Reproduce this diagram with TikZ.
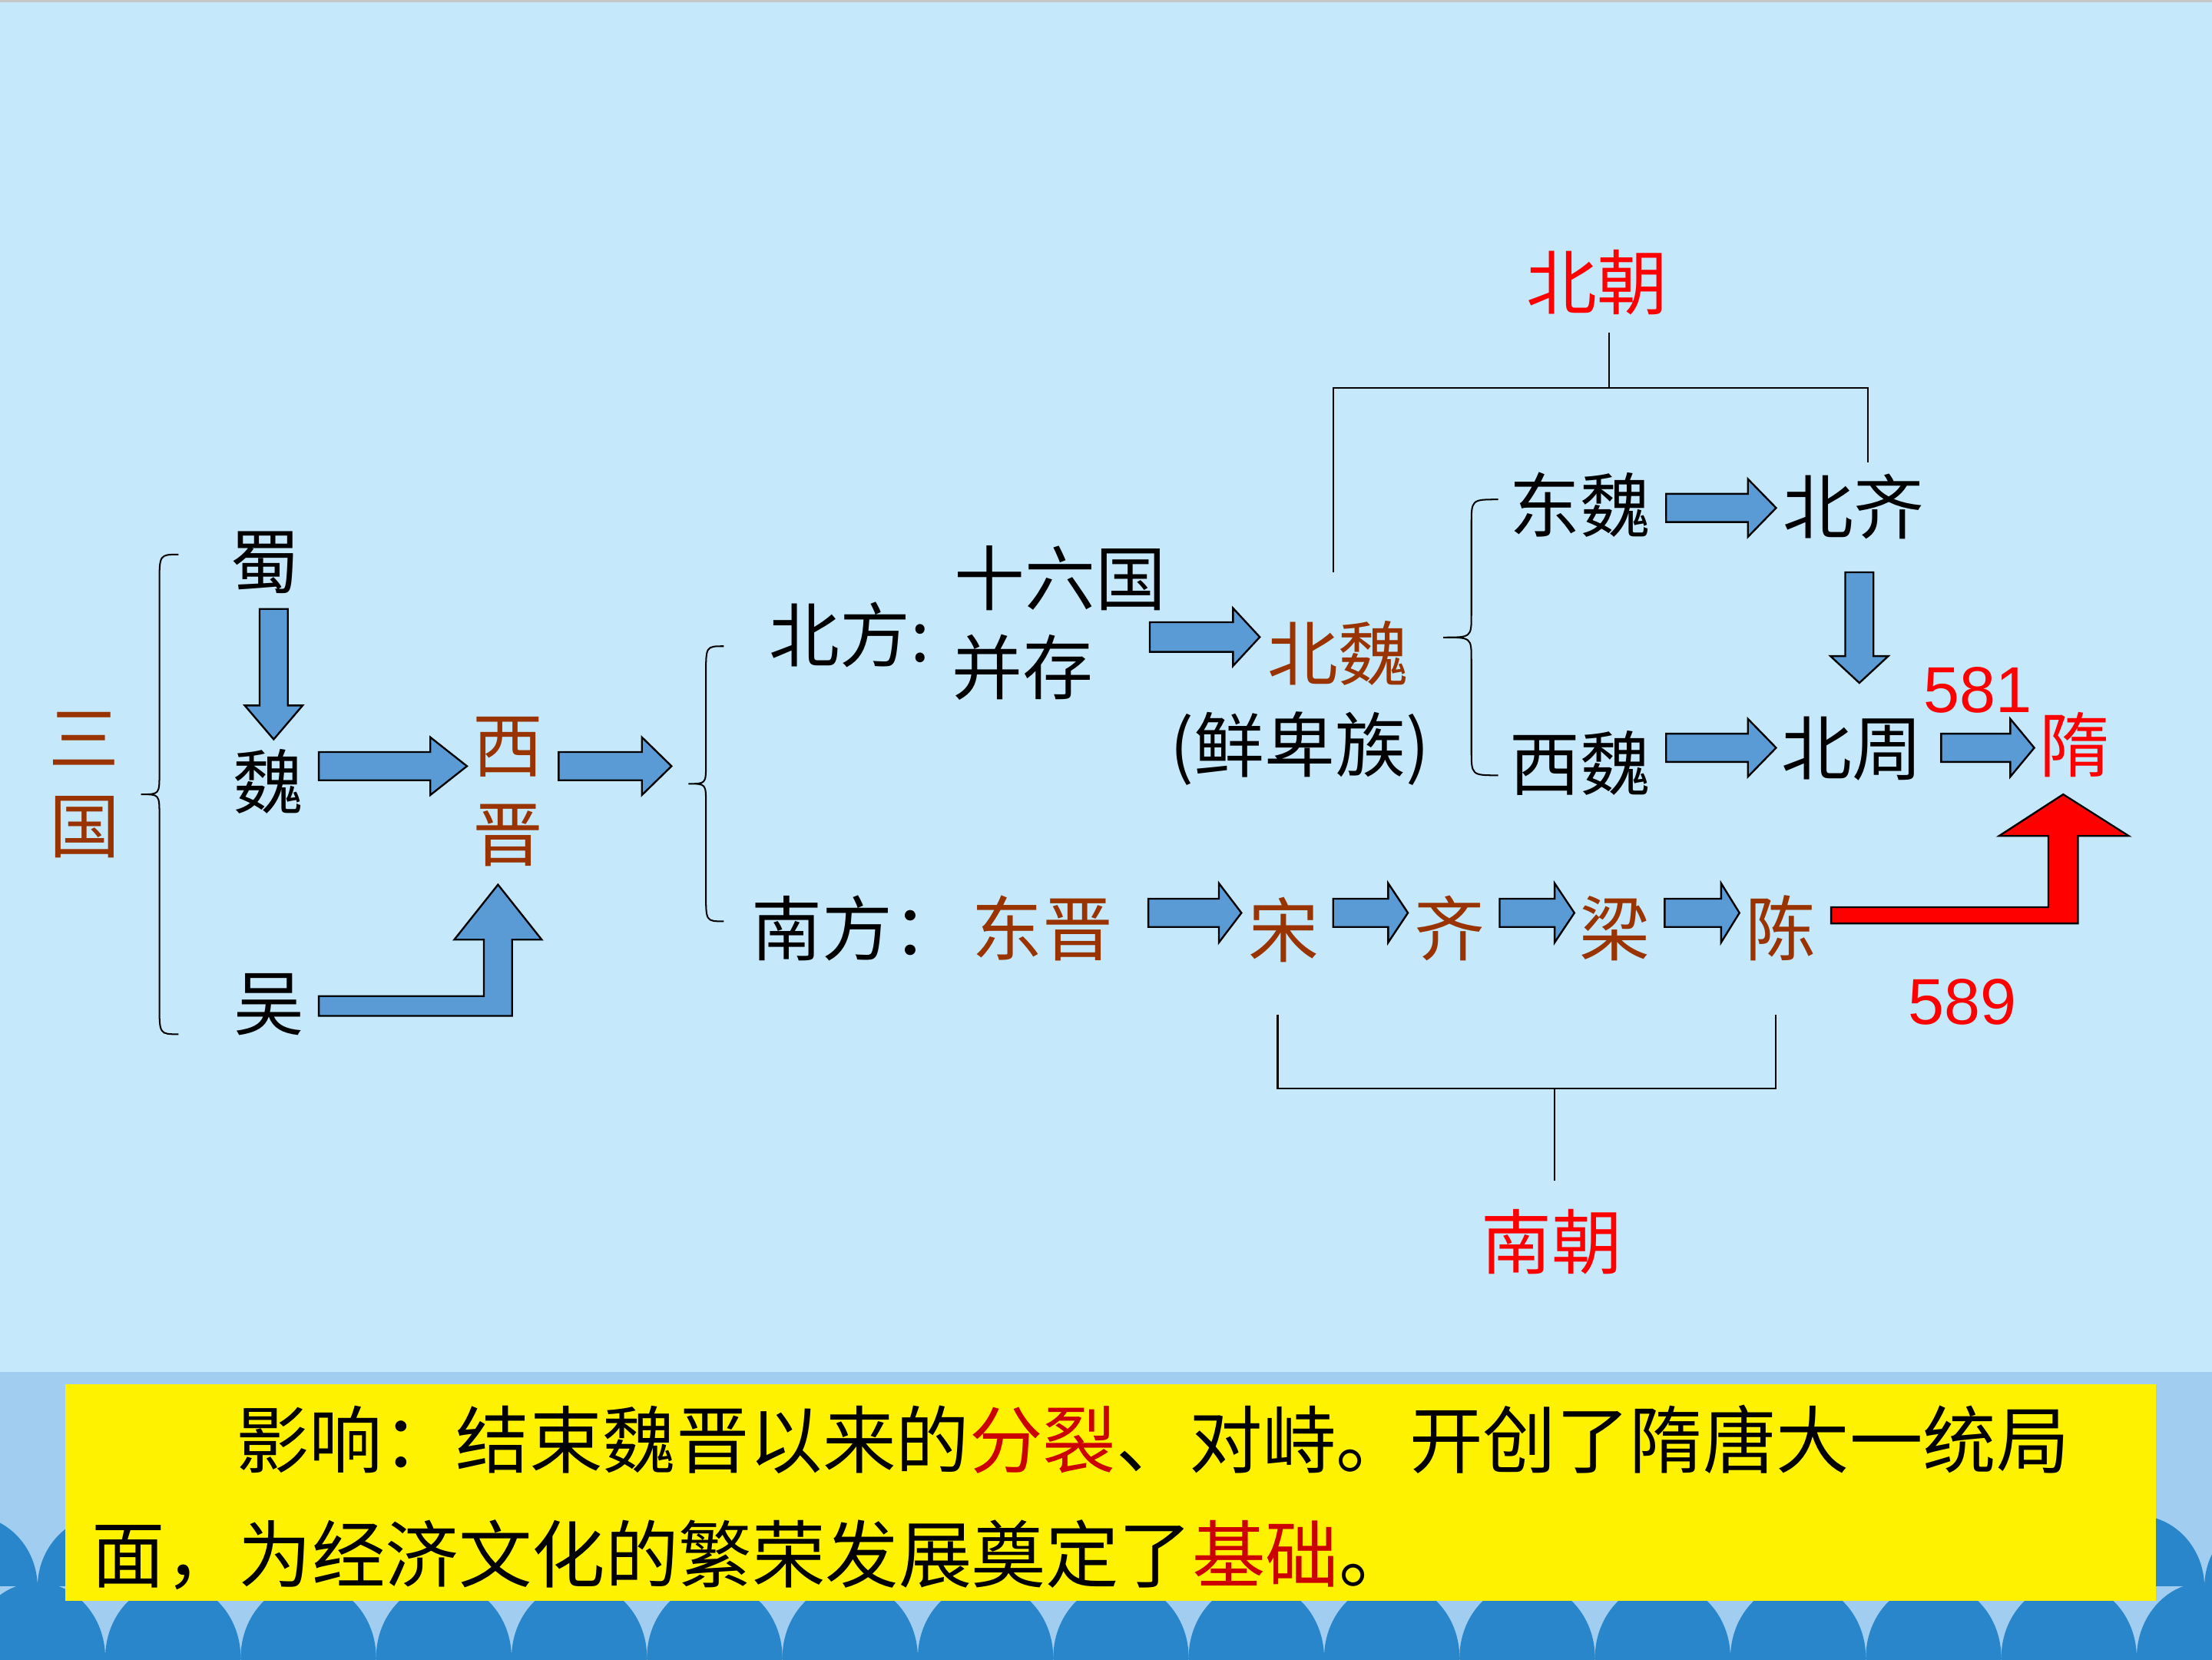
\documentclass[tikz,border=0pt]{standalone}
\usepackage{fontspec}
\newfontfamily\cjk{Noto Sans CJK SC}
\newfontfamily\arialf{Liberation Sans}
\definecolor{bgc}{HTML}{C5E8FA}
\definecolor{bandc}{HTML}{A0CDF0}
\definecolor{wavec}{HTML}{2A86CA}
\definecolor{arrblue}{HTML}{5B9BD5}
\definecolor{tbrown}{HTML}{993300}
\definecolor{tred}{HTML}{FF0000}
\definecolor{dred}{HTML}{CC0000}
\newcommand\RArr[6]{\filldraw[blockarr] (#1,{#4-#5}) -- (#2,{#4-#5}) -- (#2,{#4-#6}) -- (#3,#4) -- (#2,{#4+#6}) -- (#2,{#4+#5}) -- (#1,{#4+#5}) -- cycle;}
\newcommand\DArr[6]{\filldraw[blockarr] ({#1-#5},#2) -- ({#1+#5},#2) -- ({#1+#5},#3) -- ({#1+#6},#3) -- (#1,#4) -- ({#1-#6},#3) -- ({#1-#5},#3) -- cycle;}
\newcommand\CurlyB[7]{\draw[braceline] (#1,#4) .. controls (#2,#4) .. (#2,{#4+#6}) -- (#2,{(#4+#5)/2-#7}) .. controls (#2,{(#4+#5)/2}) .. (#3,{(#4+#5)/2}) .. controls (#2,{(#4+#5)/2}) .. (#2,{(#4+#5)/2+#7}) -- (#2,{#5-#6}) .. controls (#2,#5) .. (#1,#5);}
\begin{document}
\begin{tikzpicture}[x=1pt,y=-1pt,
  zh/.style={font=\cjk\fontsize{50}{60}\selectfont, inner sep=0pt, text height=44pt, text depth=6pt},
  zhb/.style={font=\cjk\fontsize{52}{62}\selectfont, inner sep=0pt, text height=46pt, text depth=6pt, anchor=west},
  num/.style={font=\arialf\fontsize{46}{50}\selectfont, inner sep=0pt, text=tred},
  br/.style={text=tbrown},
  rd/.style={text=tred},
  blockarr/.style={draw=black, line width=1.3pt, fill=arrblue, line join=miter},
  bline/.style={draw=black, line width=1.3pt},
  braceline/.style={draw=black, line width=1.1pt}]
\useasboundingbox (0,0) rectangle (1568,1176);
% background
\fill[bgc] (0,0) rectangle (1568,1176);
\fill[gray!45] (0,0) rectangle (1568,1.8);
\fill[bandc] (0,972.4) rectangle (1568,1176);
\begin{scope}
\clip (0,0) rectangle (1568,1124);
\foreach \k in {-1,...,16} \fill[wavec] ({74.6+96*\k},1125) ellipse [x radius=48, y radius=51];
\end{scope}
\foreach \k in {-1,...,15} \fill[wavec] ({122.6+96*\k},1175) ellipse [x radius=48, y radius=53.4];
\fill[wavec] (0,1175) rectangle (1568,1176);

% left group
\node[zh,br] (san) at (59.5,523) {三};
\node[zh,br] (guo) at (60,585) {国};
\CurlyB{126.5}{113}{100}{393}{733}{21}{15}
\node[zh] (shu) at (188,398) {蜀};
\node[zh] (wei) at (190,554) {魏};
\node[zh] (wu) at (191,711) {吴};
\node[zh,br] (xi) at (360,528) {西};
\node[zh,br] (jin) at (360,591) {晋};
\DArr{194}{431.6}{500}{524}{10}{20.5}
\RArr{226}{305}{331}{543}{10}{20.5}
\RArr{396}{455}{476}{543}{10}{20.5}
\filldraw[blockarr] (226,706) -- (343,706) -- (343,666) -- (322,666) -- (353,627) -- (384,666) -- (363,666) -- (363,720) -- (226,720) -- cycle;

% middle brace
\CurlyB{513}{500.4}{488}{458}{653}{20}{14}

% north
\node[zh, anchor=west] (beifang) at (545,450) {北方:};
\node[zh] (shiliu) at (751.5,410) {十六国};
\node[zh] (bingcun) at (725,473) {并存};
\RArr{815}{874}{893}{451.5}{10.5}{20.5}
\node[zh,br] (beiwei) at (948.5,463) {北魏};
\node[zh] (xianbei) at (921.5,528) {(鲜卑族)};
\node[zh,rd] (beichao) at (1132,200) {北朝};
\coordinate (bcl) at (945,405.6);
\coordinate (bcr) at (1324,327.6);
\coordinate (bcs) at (1140.6,236);
\draw[bline] (bcl) -- (945,275) -- (1324,275) -- (bcr);
\draw[bline] (1140.6,275) -- (bcs);
\CurlyB{1062}{1043}{1023}{354}{549.5}{18}{16}
\node[zh] (dongwei) at (1120,358) {东魏};
\node[zh] (beiqi) at (1314,359) {北齐};
\node[zh] (xiwei) at (1120,541) {西魏};
\node[zh] (beizhou) at (1313,530) {北周};
\node[zh,rd] (sui) at (1471,528) {隋};
\RArr{1181}{1239}{1259}{360}{10}{20.5}
\RArr{1181}{1239}{1259}{530}{10}{20.5}
\RArr{1376}{1425}{1442}{530}{10}{20.5}
\DArr{1318}{405.6}{465}{484}{10}{20.5}
\node[num] (n581) at (1402,489) {581};
\node[num] (n589) at (1391,710) {589};

% south
\node[zh] (nanfang) at (608,658) {南方：};
\node[zh,br] (dongjin) at (739,658) {东晋};
\node[zh,br] (song) at (910,659) {宋};
\node[zh,br] (qi) at (1027.5,658) {齐};
\node[zh,br] (liang) at (1144.5,658) {梁};
\node[zh,br] (chen) at (1262,658) {陈};
\RArr{814}{864}{880}{647}{10}{21}
\RArr{945}{984}{998}{647}{10}{21}
\RArr{1063}{1102}{1116}{647}{10}{21}
\RArr{1180}{1220}{1233}{647}{10}{21}
\filldraw[blockarr, fill=tred] (1298,643) -- (1452,643) -- (1452,592.5) -- (1417,592.5) -- (1462.5,563) -- (1509,592.5) -- (1473,592.5) -- (1473,654.5) -- (1298,654.5) -- cycle;
\coordinate (ncl) at (905.6,719);
\coordinate (ncr) at (1258.7,719);
\coordinate (ncs) at (1101.8,837);
\draw[bline] (ncl) -- (905.6,771.4) -- (1258.7,771.4) -- (ncr);
\draw[bline] (1101.8,771.4) -- (ncs);
\node[zh,rd] (nanchao) at (1100,880) {南朝};

% bottom box
\node[fill=yellow, minimum width=1481.5pt, minimum height=153.6pt, inner sep=0pt, anchor=north west] (box) at (46.3,981) {};
\node[zhb] (line1) at (167,1020) {影响：结束魏晋以来的\textcolor{dred}{分裂}、对峙。开创了隋唐大一统局};
\node[zhb] (line2) at (65,1101) {面，为经济文化的繁荣发展奠定了\textcolor{dred}{基础}。};
\end{tikzpicture}
\end{document}
